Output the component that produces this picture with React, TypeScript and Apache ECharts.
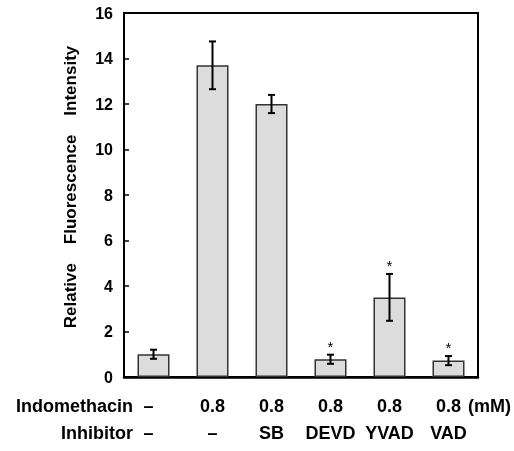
import React, { useEffect, useRef } from 'react';
import * as echarts from 'echarts';

const indomethacin = ['–', '0.8', '0.8', '0.8', '0.8', '0.8'];
const inhibitor = ['–', '–', 'SB', 'DEVD', 'YVAD', 'VAD'];
const means = [1.0, 13.7, 12.0, 0.78, 3.5, 0.72];
const errors = [0.2, 1.05, 0.4, 0.2, 1.03, 0.2];
const significant = [0, 0, 0, 1, 1, 1];
const yMin = 0;
const yMax = 16;
const yInterval = 2;
const yName = ['Relative', 'Fluorescence', 'Intensity'];
const rowNames = ['Indomethacin', 'Inhibitor'];
const unitLabel = '(mM)';

const FONT = 'Arial, "Liberation Sans", Helvetica, sans-serif';

export default function App() {
  const ref = useRef<HTMLDivElement>(null);
  useEffect(() => {
    const chart = echarts.init(ref.current!, null, { renderer: 'svg' });
    const cats = indomethacin.map((_, i) => String(i));
    const labelStyle = { fontFamily: FONT, fontWeight: 'bold', fontSize: 18, lineHeight: 27, color: '#000' };
    const gap = '\u00A0\u00A0\u00A0\u00A0';
    chart.setOption({
      animation: false,
      grid: {
        left: 124, right: 36, top: 13, bottom: 74,
        show: true, borderColor: '#000', borderWidth: 2, backgroundColor: 'transparent',
      },
      xAxis: {
        type: 'category',
        data: cats,
        axisTick: { show: false },
        axisLine: { lineStyle: { color: '#000', width: 2.5 } },
        axisLabel: {
          margin: 15,
          interval: 0,
          formatter: (_v: string, i: number) =>
            i === 0
              ? `{d|${indomethacin[i]}}\n{d|${inhibitor[i]}}`
              : `{a|${indomethacin[i]}}\n{a|${inhibitor[i]}}`,
          rich: {
            a: labelStyle,
            d: { ...labelStyle, padding: [0, 10, 0, 0] },
          },
        },
      },
      yAxis: {
        type: 'value',
        min: yMin,
        max: yMax,
        interval: yInterval,
        axisLine: { show: true, lineStyle: { color: '#000', width: 2 } },
        axisTick: { show: true, inside: true, length: 5, lineStyle: { color: '#000', width: 1.5 } },
        splitLine: { show: false },
        axisLabel: { margin: 11, fontFamily: FONT, fontWeight: 'bold', fontSize: 16, color: '#000' },
      },
      series: [
        {
          type: 'bar',
          data: means,
          barWidth: 32,
          itemStyle: { color: '#dcdcdc', borderColor: '#333', borderWidth: 1.5 },
        },
        {
          type: 'custom',
          z: 10,
          data: means.map((m, i) => [i, m, errors[i], significant[i]]),
          encode: { x: 0, y: 1 },
          renderItem: (_params: any, api: any) => {
            const x = api.value(0);
            const m = api.value(1);
            const e = api.value(2);
            const s = api.value(3);
            const top = api.coord([x, m + e]);
            const bot = api.coord([x, m - e]);
            const hw = 3.5;
            const style = { stroke: '#000', lineWidth: 2 };
            const children: any[] = [
              { type: 'line', shape: { x1: top[0], y1: top[1], x2: bot[0], y2: bot[1] }, style },
              { type: 'line', shape: { x1: top[0] - hw, y1: top[1], x2: top[0] + hw, y2: top[1] }, style },
              { type: 'line', shape: { x1: bot[0] - hw, y1: bot[1], x2: bot[0] + hw, y2: bot[1] }, style },
            ];
            if (s) {
              children.push({
                type: 'text',
                x: top[0],
                y: top[1] - 1,
                style: { text: '*', font: `15px ${FONT}`, fill: '#000', align: 'center', verticalAlign: 'bottom' },
              });
            }
            return { type: 'group', children };
          },
        },
      ],
      graphic: [
        {
          type: 'text',
          x: 70,
          y: 187,
          rotation: Math.PI / 2,
          style: {
            text: yName.join(gap),
            font: `bold 17px ${FONT}`,
            fill: '#000',
            align: 'center',
            verticalAlign: 'middle',
          },
        },
        {
          type: 'text',
          x: 133,
          y: 406,
          style: { text: rowNames[0], font: `bold 18px ${FONT}`, fill: '#000', align: 'right', verticalAlign: 'middle' },
        },
        {
          type: 'text',
          x: 133,
          y: 433,
          style: { text: rowNames[1], font: `bold 18px ${FONT}`, fill: '#000', align: 'right', verticalAlign: 'middle' },
        },
        {
          type: 'text',
          x: 468,
          y: 406,
          style: { text: unitLabel, font: `bold 18px ${FONT}`, fill: '#000', align: 'left', verticalAlign: 'middle' },
        },
      ],
    });
    return () => chart.dispose();
  }, []);
  return <div ref={ref} style={{ position: 'fixed', left: 0, top: 0, width: 514, height: 451 }} />;
}
